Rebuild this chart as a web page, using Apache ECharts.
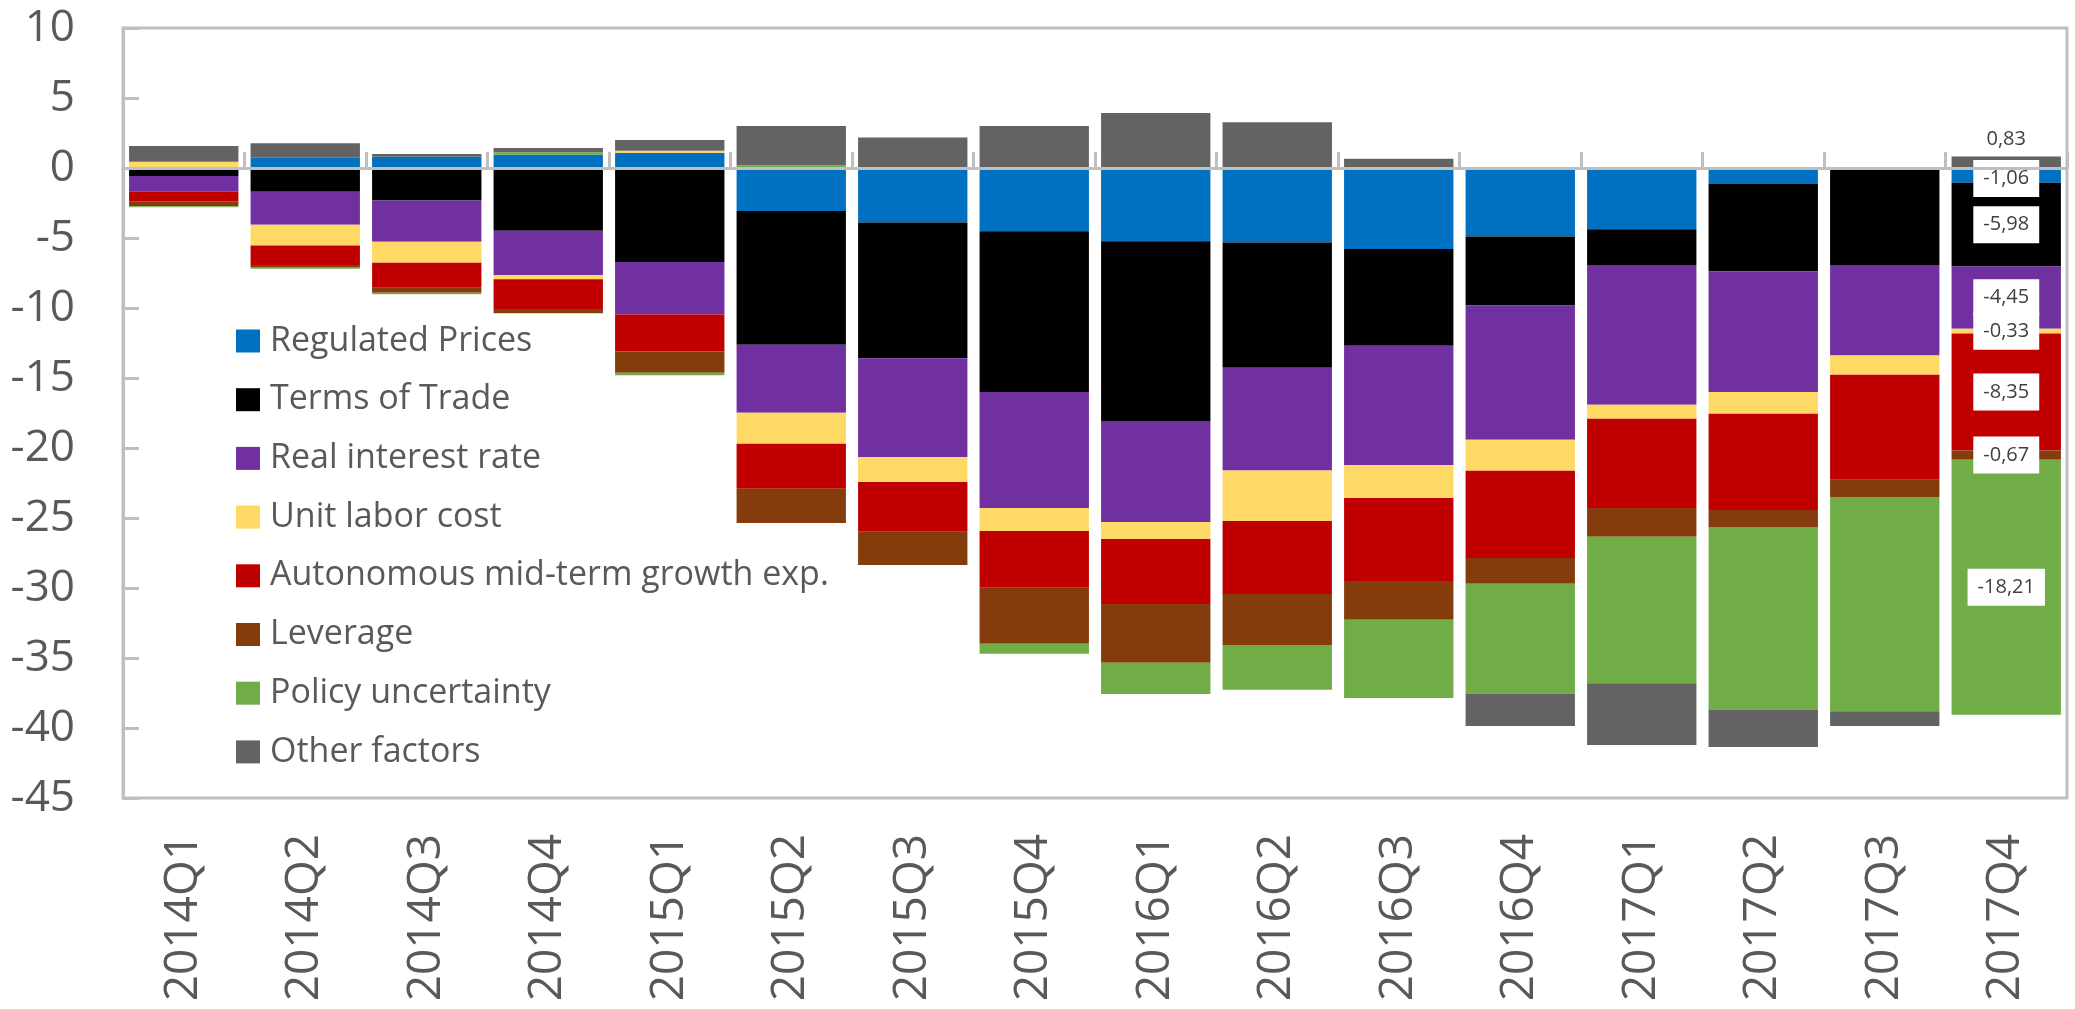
<!DOCTYPE html>
<html>
<head>
<meta charset="utf-8">
<script src="https://cdn.jsdelivr.net/npm/echarts@6/dist/echarts.min.js"></script>
<style>
  html, body { margin: 0; padding: 0; background: #ffffff; }
  #chart { width: 2075px; height: 1009px; }
</style>
</head>
<body>
<div id="chart"></div>
<script>
// ---- Data ----
const categories = ['2014Q1','2014Q2','2014Q3','2014Q4','2015Q1','2015Q2','2015Q3','2015Q4',
                    '2016Q1','2016Q2','2016Q3','2016Q4','2017Q1','2017Q2','2017Q3','2017Q4'];

const regulatedPrices = [0, 0.74, 0.81, 0.95, 1.07, -3.07, -3.90, -4.52, -5.24, -5.33, -5.79, -4.90, -4.38, -1.14, 0, -1.06];
const termsOfTrade    = [-0.57, -1.69, -2.33, -4.48, -6.71, -9.55, -9.69, -11.48, -12.83, -8.93, -6.90, -4.93, -2.55, -6.24, -6.93, -5.98];
const realInterest    = [-1.12, -2.36, -2.93, -3.17, -3.76, -4.86, -7.05, -8.29, -7.22, -7.34, -8.52, -9.58, -9.98, -8.62, -6.47, -4.45];
const unitLaborCost   = [0.45, -1.48, -1.50, -0.29, 0.17, -2.21, -1.79, -1.64, -1.21, -3.61, -2.36, -2.21, -1.00, -1.55, -1.36, -0.33];
const autonomous      = [-0.69, -1.40, -1.79, -2.14, -2.64, -3.22, -3.55, -4.05, -4.64, -5.22, -5.93, -6.24, -6.38, -6.88, -7.50, -8.35];
const leverage        = [-0.36, -0.14, -0.36, -0.29, -1.52, -2.45, -2.38, -4.00, -4.20, -3.64, -2.76, -1.83, -2.05, -1.21, -1.24, -0.67];
const policy          = [-0.07, -0.12, -0.10, 0.17, -0.17, 0.20, 0, -0.71, -2.23, -3.19, -5.60, -7.84, -10.47, -13.03, -15.31, -18.21];
const otherFactors    = [1.12, 1.02, 0.19, 0.31, 0.76, 2.80, 2.17, 3.00, 3.93, 3.26, 0.66, -2.33, -4.40, -2.69, -1.05, 0.83];

const seriesNames  = ['Regulated Prices', 'Terms of Trade', 'Real interest rate', 'Unit labor cost',
                      'Autonomous mid-term growth exp.', 'Leverage', 'Policy uncertainty', 'Other factors'];
const seriesData   = [regulatedPrices, termsOfTrade, realInterest, unitLaborCost, autonomous, leverage, policy, otherFactors];
const seriesColors = ['#0070C0', '#000000', '#7030A0', '#FFD966', '#C00000', '#843C0C', '#70AD47', '#636363'];

const yMin = -45, yMax = 10, yStep = 5;

// ---- Chart ----
const FONT = 'Open Sans';
const AXIS_GRAY = '#BFBFBF';
const TEXT_GRAY = '#595959';

const fmt = v => v.toFixed(2).replace('.', ',');

const labelBase = {
  show: true,
  fontFamily: FONT,
  fontSize: 20,
  color: '#404040',
  backgroundColor: '#ffffff',
  padding: [8, 10],
  lineHeight: 21,
  formatter: p => fmt(p.value)
};

const lastIdx = categories.length - 1;
const labelOffsets = { 0: [0, 3] };

const series = seriesNames.map((name, si) => ({
  name,
  type: 'bar',
  stack: 'total',
  stackStrategy: 'samesign',
  xAxisIndex: 0,
  yAxisIndex: 0,
  barCategoryGap: '10%',
  itemStyle: { color: seriesColors[si] },
  emphasis: { disabled: true },
  data: seriesData[si].map((v, i) => {
    if (i !== lastIdx) return v;
    const isOther = si === seriesNames.length - 1;
    return {
      value: v,
      label: Object.assign({}, labelBase, isOther
        ? { position: 'top', distance: 3, padding: [4, 8] }
        : { position: 'inside', offset: labelOffsets[si] || [0, 0] })
    };
  })
}));

const chart = echarts.init(document.getElementById('chart'), null, { renderer: 'canvas' });
chart.setOption({
  animation: false,
  backgroundColor: '#ffffff',
  textStyle: { fontFamily: FONT },
  grid: {
    left: 123, right: 8, top: 28, bottom: 211,
    show: true, borderColor: AXIS_GRAY, borderWidth: 3, backgroundColor: 'transparent'
  },
  legend: {
    orient: 'vertical',
    left: 236, top: 323,
    padding: 0,
    itemWidth: 24, itemHeight: 23, itemGap: 22.7,
    icon: 'rect',
    selectedMode: false,
    textStyle: { fontFamily: FONT, fontSize: 34, color: TEXT_GRAY, lineHeight: 36, padding: [0, 0, 0, 5] },
    data: seriesNames
  },
  xAxis: [
    {
      type: 'category',
      data: categories,
      position: 'bottom',
      axisLine: { show: true, onZero: true, lineStyle: { color: AXIS_GRAY, width: 3 } },
      axisTick: { show: true, inside: true, length: 16, alignWithLabel: false, lineStyle: { color: AXIS_GRAY, width: 3 } },
      axisLabel: { show: false },
      splitLine: { show: false },
      z: 5
    },
    {
      type: 'category',
      data: categories,
      position: 'bottom',
      axisLine: { show: false, onZero: false },
      axisTick: { show: false },
      axisLabel: { show: true, rotate: 90, fontFamily: FONT, fontSize: 46, color: TEXT_GRAY, margin: 36 },
      splitLine: { show: false }
    }
  ],
  yAxis: {
    type: 'value',
    min: yMin, max: yMax, interval: yStep,
    axisLine: { show: true, lineStyle: { color: AXIS_GRAY, width: 3 } },
    axisTick: { show: true, inside: true, length: 16, lineStyle: { color: AXIS_GRAY, width: 3 } },
    axisLabel: { fontFamily: FONT, fontSize: 44, color: TEXT_GRAY, margin: 48 },
    splitLine: { show: false }
  },
  series
});
</script>
</body>
</html>
